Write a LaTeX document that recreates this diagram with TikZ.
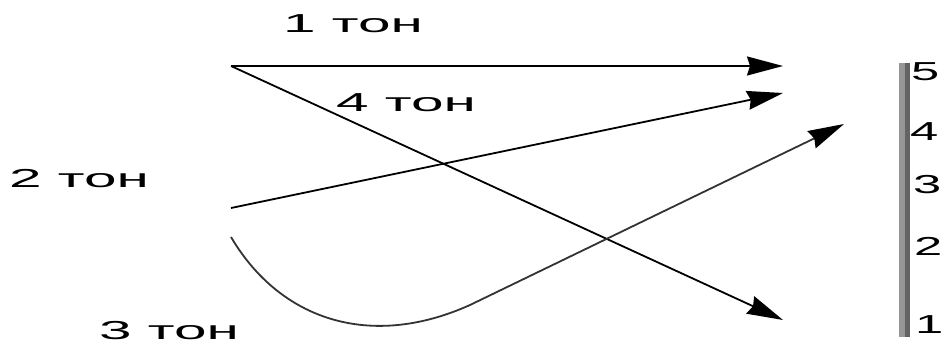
\documentclass[tikz,border=0pt]{standalone}
\usepackage{fontspec}
\setmainfont{Liberation Sans}
\newfontfamily\tonfont[FakeStretch=2.25]{Liberation Sans}
\newfontfamily\numfont[FakeStretch=1.95]{Liberation Sans}
\usetikzlibrary{arrows.meta}
\definecolor{barlight}{RGB}{150,150,150}
\definecolor{bardark}{RGB}{100,100,100}

\begin{document}
\begin{tikzpicture}[x=1pt, y=-1pt,
    lbl/.style={inner sep=0pt, anchor=base west, font=\fontsize{26}{28}\tonfont},
    num/.style={inner sep=0pt, anchor=base west, font=\fontsize{26}{28}\numfont},
    arrow/.style={-{Stealth[length=36pt,width=19pt,inset=3pt]}, line width=1.8pt, black},
    curvearrow/.style={-{Stealth[length=36pt,width=19pt,inset=3pt,black]}, line width=1.8pt, draw=black!80}
  ]
    \fill[white] (0,0) rectangle (944,345);
    \useasboundingbox (0,0) rectangle (944,345);

    % tone labels
    \node[lbl] (t1) at (283,33)  {1 тон};
    \node[lbl] (t4) at (336,111) {4 тон};
    \node[lbl] (t2) at (9,187)   {2 тон};
    \node[lbl] (t3) at (99,339)  {3 тон};

    % start and end points
    \coordinate (s14) at (231,66);
    \coordinate (s2)  at (231,208);
    \coordinate (s3)  at (231,237);
    \coordinate (e1)  at (783,66);
    \coordinate (e2)  at (783,93);
    \coordinate (e3)  at (844,124);
    \coordinate (e4)  at (783,320);

    % scale
    \fill[barlight] (899,63) rectangle (905,337);
    \fill[bardark]  (905,63) rectangle (910,337);
    \node[num] (l5) at (911,81)  {5};
    \node[num] (l4) at (910,140) {4};
    \node[num] (l3) at (913,193) {3};
    \node[num] (l2) at (914,255) {2};
    \node[num] (l1) at (915,333) {1};

    \draw[arrow] (s14) -- (e1);
    \draw[arrow] (s14) -- (e4);
    \draw[arrow] (s2) -- (e2);
    \draw[curvearrow] (s3) .. controls (280,320) and (370,350) .. (470,305) -- (e3);
\end{tikzpicture}
\end{document}
